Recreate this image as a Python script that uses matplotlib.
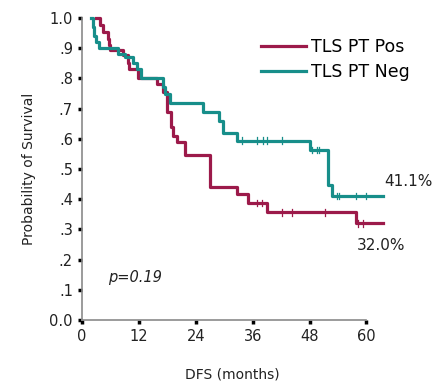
import matplotlib
matplotlib.use('Agg')
import numpy as np
import matplotlib.pyplot as plt

# Kaplan-Meier step data (months, survival after step)
neg_times = [1.8, 2.3, 2.6, 3.0, 3.5, 7.6, 9.0, 10.8, 11.5, 12.5, 17.0, 17.5, 18.5,
             25.5, 29.0, 29.8, 32.8, 48.0, 52.0, 52.8, 63.4]
neg_surv = [1.0, 0.97, 0.94, 0.92, 0.90, 0.88, 0.87, 0.85, 0.83, 0.80, 0.77, 0.75, 0.72,
            0.69, 0.66, 0.62, 0.594, 0.563, 0.447, 0.411, 0.411]
neg_cens_t = [33.7, 37.0, 38.1, 39.0, 42.1, 48.6, 49.5, 50.1, 53.7, 54.3, 57.9, 60.0]

pos_times = [3.0, 3.8, 4.4, 5.5, 5.8, 6.0, 8.6, 9.7, 10.0, 11.8, 15.8, 17.0, 17.9, 18.0,
             18.8, 19.2, 20.0, 21.7, 27.0, 32.8, 35.0, 39.0, 57.9, 63.4]
pos_surv = [1.0, 0.977, 0.955, 0.932, 0.91, 0.894, 0.877, 0.85, 0.83, 0.80, 0.78, 0.755,
            0.73, 0.69, 0.64, 0.61, 0.59, 0.546, 0.44, 0.417, 0.387, 0.357, 0.32, 0.32]
pos_cens_t = [37.0, 37.9, 42.1, 44.2, 51.2, 58.3, 59.2]

pos_color = '#9C1A4A'
neg_color = '#178E8A'


def surv_at(times, surv, t):
    idx = np.searchsorted(times, t, side='right') - 1
    return surv[max(idx, 0)]


fig = plt.figure(figsize=(4.36, 3.85), dpi=100)
ax = fig.add_axes([82/436, 65/385, 301/436, 302/385])

ax.step(pos_times, pos_surv, where='post', color=pos_color, lw=2.3, label='TLS PT Pos',
        clip_on=False, zorder=3)
ax.step(neg_times, neg_surv, where='post', color=neg_color, lw=2.3, label='TLS PT Neg',
        clip_on=False, zorder=3)

for t in neg_cens_t:
    s = surv_at(neg_times, neg_surv, t)
    ax.plot([t, t], [s - 0.011, s + 0.011], color=neg_color, lw=0.9, zorder=4)
for t in pos_cens_t:
    s = surv_at(pos_times, pos_surv, t)
    ax.plot([t, t], [s - 0.011, s + 0.011], color=pos_color, lw=0.9, zorder=4)

ax.set_xlim(0, 63.5)
ax.set_ylim(0, 1.0)
ax.spines['top'].set_visible(False)
ax.spines['right'].set_visible(False)
ax.spines['bottom'].set_bounds(0, 60)
for s in ['left', 'bottom']:
    ax.spines[s].set_color('#8a8a8a')
    ax.spines[s].set_linewidth(1.2)

ax.set_xticks([0, 12, 24, 36, 48, 60])
ax.set_yticks(np.arange(0, 1.01, 0.1))
ax.set_yticklabels(['0.0', '.1', '.2', '.3', '.4', '.5', '.6', '.7', '.8', '.9', '1.0'])
ax.tick_params(direction='out', length=3, width=2.5, color='black', labelsize=10.5,
               labelcolor='#222222')

ax.set_ylabel('Probability of Survival', fontsize=10, color='#222222', labelpad=10)
ax.set_xlabel('DFS (months)', fontsize=10, color='#222222', labelpad=17)

ax.text(5.5, 0.142, 'p=0.19', fontsize=10.5, style='italic', va='center', color='#222222')
ax.text(63.8, 0.457, '41.1%', fontsize=11, va='center', color='#222222', clip_on=False)
ax.text(57.9, 0.248, '32.0%', fontsize=11, va='center', color='#222222', clip_on=False)

ax.legend(loc='upper left', bbox_to_anchor=(0.595, 0.935), frameon=False, fontsize=12.5,
          handlelength=2.6, handletextpad=0.3, labelspacing=0.45, borderaxespad=0,
          borderpad=0)

fig.savefig('out.png', dpi=100)
